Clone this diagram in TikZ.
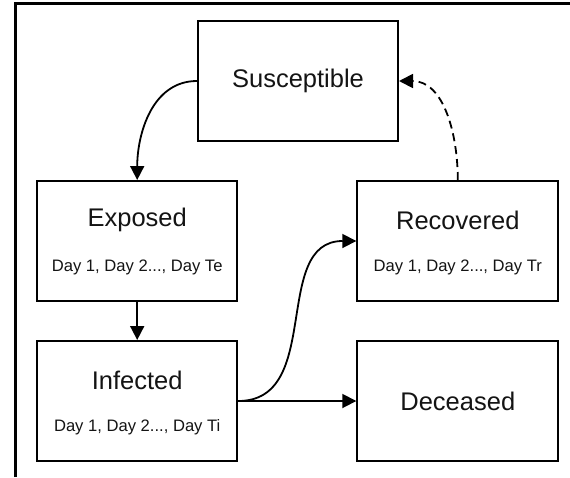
\documentclass[tikz,border=0pt]{standalone}
\usepackage{fontspec}
\setmainfont{Liberation Sans}
\usetikzlibrary{arrows.meta}
\tikzset{
  stage/.style={draw=black, line width=2pt, rectangle, minimum width=200pt, minimum height=120pt, inner sep=0pt},
  title/.style={font=\fontsize{25.5}{29}\selectfont, inner sep=0pt, text=black!92},
  days/.style={font=\fontsize{16.6}{19}\selectfont, inner sep=0pt, text=black!92},
  flow/.style={line width=1.8pt, -{Triangle[length=14pt,width=14pt]}},
  back/.style={flow, dash pattern=on 8pt off 5pt},
}
\begin{document}
\begin{tikzpicture}[x=1pt,y=-1pt]
\useasboundingbox (0,0) rectangle (570,477);
\fill[white] (0,0) rectangle (570,477);
% frame edges
\coordinate (fbl) at (15,477);
\coordinate (ftl) at (15,3.5);
\coordinate (ftr) at (570,3.5);
\draw[line width=3pt, line join=miter] (fbl) -- (ftl) -- (ftr);

% compartments
\node[stage] (sus) at (298,81) {};
\node[stage] (exp) at (137.2,241) {};
\node[stage, minimum width=201pt] (rec) at (457.8,241) {};
\node[stage] (inf) at (137.2,401) {};
\node[stage, minimum width=201pt] (dec) at (457.8,401) {};

% labels
\node[title] (sust) at (298,81) {Susceptible};
\node[title] (expt) at (137.2,220) {Exposed};
\node[days]  (expd) at (137.2,267) {Day 1, Day 2..., Day Te};
\node[title] (rect) at (457.8,220) {Recovered};
\node[days]  (recd) at (457.8,267) {Day 1, Day 2..., Day Tr};
\node[title] (inft) at (137.2,380) {Infected};
\node[days]  (infd) at (137.2,427) {Day 1, Day 2..., Day Ti};
\node[title] (dect) at (457.8,401) {Deceased};

% transitions
\draw[flow] (sus.west) to[out=180,in=90] (exp.north);
\draw[flow] (exp.south) -- (inf.north);
\draw[flow] (inf.east) -- (dec.west);
\draw[flow] (inf.east) to[out=0,in=180,looseness=1.1] (rec.west);
\draw[back] (rec.north) to[out=90,in=0] (sus.east);
\end{tikzpicture}
\end{document}
